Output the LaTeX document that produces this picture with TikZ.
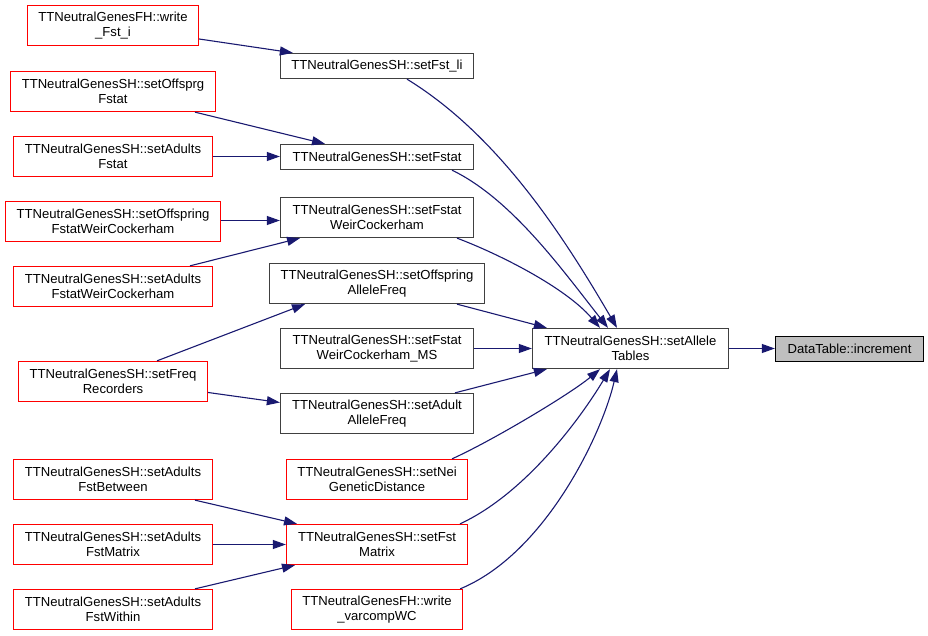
\documentclass[tikz,border=0pt]{standalone}
\usepackage{fontspec}
\setmainfont{Liberation Sans}
\usepackage{tikz}
\usetikzlibrary{arrows.meta,calc}
\definecolor{edgecolor}{RGB}{25,25,112}
\definecolor{boxcolor}{RGB}{64,64,64}
\definecolor{rootfill}{RGB}{191,191,191}

\begin{document}
\begin{tikzpicture}[x=1pt,y=-1pt,
        fn/.style={draw=boxcolor,line width=1.3pt,fill=white,align=center,inner sep=0pt,
          font=\fontsize{13.1}{15.3}\selectfont,minimum height=40},
        rfn/.style={fn,draw=red},
        onel/.style={minimum height=25},
        call/.style={edgecolor,line width=1.1pt,-{Triangle[length=13pt,width=9pt]}}]
        \useasboundingbox (0,0) rectangle (928,636);

        % left column
        \node[rfn,minimum width=171] (wfsti) at (113,25.5) {TTNeutralGenesFH::write\\\_Fst\_i};
        \node[rfn,minimum width=205] (offsprgfstat) at (113,91.5) {TTNeutralGenesSH::setOffsprg\\Fstat};
        \node[rfn,minimum width=199] (adultsfstat) at (113,156.5) {TTNeutralGenesSH::setAdults\\Fstat};
        \node[rfn,minimum width=215] (offwc) at (113,221.5) {TTNeutralGenesSH::setOffspring\\FstatWeirCockerham};
        \node[rfn,minimum width=199] (adultswc) at (113,286.5) {TTNeutralGenesSH::setAdults\\FstatWeirCockerham};
        \node[rfn,minimum width=189] (freqrec) at (113,381.5) {TTNeutralGenesSH::setFreq\\Recorders};
        \node[rfn,minimum width=199] (fbetween) at (113,479.5) {TTNeutralGenesSH::setAdults\\FstBetween};
        \node[rfn,minimum width=199] (fmatrixa) at (113,544.5) {TTNeutralGenesSH::setAdults\\FstMatrix};
        \node[rfn,minimum width=199] (fwithin) at (113,609.5) {TTNeutralGenesSH::setAdults\\FstWithin};

        % middle column
        \node[fn,onel,minimum width=193] (fstli) at (377,66) {TTNeutralGenesSH::setFst\_li};
        \node[fn,onel,minimum width=193] (fstat) at (377,157) {TTNeutralGenesSH::setFstat};
        \node[fn,minimum width=193] (fstatwc) at (377,217.5) {TTNeutralGenesSH::setFstat\\WeirCockerham};
        \node[fn,minimum width=215] (offallele) at (377,283.5) {TTNeutralGenesSH::setOffspring\\AlleleFreq};
        \node[fn,minimum width=193] (wcms) at (377,348.5) {TTNeutralGenesSH::setFstat\\WeirCockerham\_MS};
        \node[fn,minimum width=193] (adallele) at (377,413.5) {TTNeutralGenesSH::setAdult\\AlleleFreq};
        \node[rfn,minimum width=181] (nei) at (377,479.5) {TTNeutralGenesSH::setNei\\GeneticDistance};
        \node[rfn,minimum width=181] (fstmatrix) at (377,544.5) {TTNeutralGenesSH::setFst\\Matrix};
        \node[rfn,minimum width=171] (varcomp) at (377,609.5) {TTNeutralGenesFH::write\\\_varcompWC};

        % right side
        \node[fn,minimum width=196] (tables) at (630.5,348.5) {TTNeutralGenesSH::setAllele\\Tables};
        \node[fn,onel,draw=black,fill=rootfill,minimum width=148] (incr) at (849.5,349) {DataTable::increment};

        % calls into the middle column
        \draw[call] ($(wfsti.east)+(0,13.5)$) -- ($(fstli.north west)+(13,0)$);
        \draw[call] ($(offsprgfstat.south)+(82,0)$) -- ($(fstat.north)+(-52,0)$);
        \draw[call] (adultsfstat.east) -- (adultsfstat.east -| fstat.west);
        \draw[call] ($(offwc.east)+(0,-1)$) -- ($(fstatwc.west)+(0,3)$);
        \draw[call] ($(adultswc.north)+(77,0)$) -- ($(fstatwc.south)+(-77,0)$);
        \draw[call] ($(freqrec.north)+(44,0)$) -- ($(offallele.south)+(-72,0)$);
        \draw[call] ($(freqrec.east)+(0,11)$) -- ($(adallele.west)+(0,-11)$);
        \draw[call] ($(fbetween.south)+(82,0)$) -- ($(fstmatrix.north)+(-80,0)$);
        \draw[call] (fmatrixa.east) -- (fmatrixa.east -| fstmatrix.west);
        \draw[call] ($(fwithin.north)+(82,0)$) -- ($(fstmatrix.south)+(-82,0)$);

        % calls into setAlleleTables
        \draw[call] ($(fstli.south)+(30,0)$) .. controls +(93,57) and +(-52,-89) .. ($(tables.north)+(-13.5,0)$);
        \draw[call] ($(fstat.south)+(75,0)$) .. controls +(60,29) and +(-45,-57) .. ($(tables.north)+(-22.5,0)$);
        \draw[call] ($(fstatwc.south)+(80,0)$) .. controls +(40,15) and +(-35,-41) .. ($(tables.north)+(-30.5,0)$);
        \draw[call] ($(offallele.south)+(80,0)$) -- ($(tables.north west)+(15,0)$);
        \draw[call] (wcms.east) -- (tables.west);
        \draw[call] ($(adallele.north)+(78,0)$) -- ($(tables.south west)+(15,0)$);
        \draw[call] ($(nei.north)+(75,0)$) .. controls +(40,-18) and +(-30,25) .. ($(tables.south)+(-30.5,0)$);
        \draw[call] ($(fstmatrix.north)+(83,0)$) .. controls +(65,-30) and +(-30,50) .. ($(tables.south)+(-20.5,0)$);
        \draw[call] ($(varcomp.north east)+(-3,0)$) .. controls +(85,-35) and +(-15,65) .. ($(tables.south)+(-13.5,0)$);

        \draw[call] (tables.east) -- (tables.east -| incr.west);
    \end{tikzpicture}
\end{document}
